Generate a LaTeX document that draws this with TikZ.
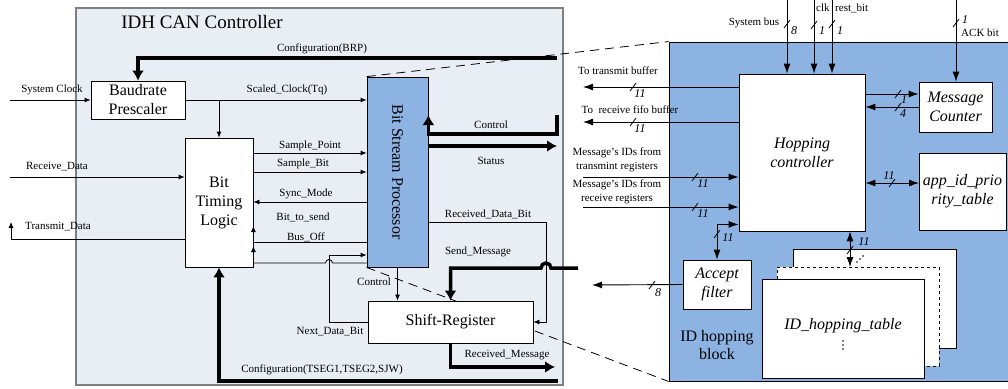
\documentclass[tikz,border=0pt]{standalone}
\usepackage{fontspec}
\setmainfont{Liberation Serif}
\usetikzlibrary{arrows.meta,positioning}
\definecolor{canbg}{RGB}{233,238,245}
\definecolor{bspblue}{RGB}{141,179,226}
\tikzset{
  blk/.style={draw, fill=white, align=center, inner sep=1pt, line width=0.8pt, font=\fontsize{16}{19}\selectfont},
  iblk/.style={blk, font=\fontsize{16}{19}\selectfont\itshape},
  lbl/.style={inner sep=1pt, align=center, font=\fontsize{11}{14}\selectfont},
  wid/.style={inner sep=1pt, font=\fontsize{12}{12}\selectfont\itshape},
  sig/.style={line width=0.8pt, -{Latex[length=6pt,width=5pt]}},
  sigr/.style={line width=0.9pt, -{Latex[length=10pt,width=7pt]}},
  sigrr/.style={line width=0.9pt, {Latex[length=10pt,width=7pt]}-{Latex[length=10pt,width=7pt]}},
  bus/.style={line width=3.5pt, -{Latex[length=10pt,width=12pt]}},
  zoomline/.style={line width=0.8pt, dash pattern=on 9pt off 6pt},
}
\newcommand{\wmark}[1]{\draw[line width=0.8pt] (#1) +(-3,4) -- +(3,-4);}

\begin{document}
\begin{tikzpicture}[x=1pt,y=-1pt]
\useasboundingbox (0,0) rectangle (1008,388);

\node[draw=black!50, line width=1.2pt, fill=canbg, minimum width=487pt, minimum height=377pt, inner sep=0pt] (can) at (319.5,196.5) {};
\node[draw, line width=0.9pt, fill=bspblue, minimum width=343pt, minimum height=339pt, inner sep=0pt] (hopblk) at (840.5,211.5) {};
\node[font=\fontsize{19}{20}\selectfont] (title) at (202,22) {IDH CAN Controller};

\node[blk, minimum width=94pt, minimum height=38pt] (baud) at (138,100) {Baudrate\\Prescaler};
\node[blk, minimum width=68pt, minimum height=129pt] (btl) at (219,202.5) {Bit\\Timing\\Logic};
\node[blk, fill=bspblue, minimum width=61pt, minimum height=190pt] (bsp) at (397.5,172) {\rotatebox{-90}{Bit Stream Processor}};

\draw[zoomline] (bsp.north west) -- (hopblk.north west);
\draw[zoomline] (bsp.south west) -- (hopblk.south west);

\node[blk, minimum width=165pt, minimum height=42pt] (shift) at (450.5,322) {Shift-Register};

\coordinate (brpin) at (557,58);
\coordinate (sysclk) at (10,100);
\coordinate (rxd) at (10,177);
\coordinate (txd) at (11,222);
\coordinate (ctrlin) at (557,115);
\coordinate (statout) at (557,146);
\coordinate (sendin) at (578,268);
\coordinate (rxmsg) at (555,367);
\coordinate (tsegin) at (558,381);

\draw[bus] (brpin) -| (baud.north);
\node[lbl] (brplbl) at (322,49) {Configuration(BRP)};
\draw[sig] (sysclk) -- (baud.west);
\node[lbl] (sysclklbl) at (52,90) {System Clock};
\draw[sig] (baud.east) -- (baud.east -| bsp.west);
\draw[sig] (baud.east -| btl.north) -- (btl.north);
\node[lbl] (tqlbl) at (287,90) {Scaled\_Clock(Tq)};
\draw[sig] (rxd) -- (rxd -| btl.west);
\node[lbl] (rxdlbl) at (57,167) {Receive\_Data};
\draw[sig] (btl.west |- 0,239) -| (txd);
\node[lbl] (txdlbl) at (58,227) {Transmit\_Data};

\draw[sig] (btl.east |- 0,153) -- (bsp.west |- 0,153);
\node[lbl] (splbl) at (310,146) {Sample\_Point};
\draw[sig] (btl.east |- 0,172) -- (bsp.west |- 0,172);
\node[lbl] (sblbl) at (303,164) {Sample\_Bit};
\draw[sig] (bsp.west |- 0,202) -- (btl.east |- 0,202);
\node[lbl] (smlbl) at (306,194) {Sync\_Mode};
\draw[sig] (bsp.west |- 0,242) -| (btl.east |- 0,226);
\node[lbl] (btslbl) at (303,217) {Bit\_to\_send};
\node[lbl] (bolbl) at (306,237) {Bus\_Off};
\draw[sig] (bsp.west |- 0,263) -- (332.5,263) arc[start angle=0, end angle=180, radius=3.5pt]
  -- (btl.east |- 0,263) -- (btl.east |- 0,246);
\draw[sig] (shift.west) -| (329,255) -- (bsp.west |- 0,255);
\node[lbl] (ndblbl) at (330,332) {Next\_Data\_Bit};
\draw[sig] (bsp.south) -- (bsp.south |- shift.north);
\node[lbl] (ctrllbl) at (374,282) {Control};
\draw[sig] (bsp.east |- 0,222) -- (546,222) |- (shift.east);
\node[lbl] (rdblbl) at (488,214) {Received\_Data\_Bit};

\draw[bus] (ctrlin) |- (bsp.east |- 0,134) -- (bsp.east |- 0,115);
\node[lbl] (ctrl2lbl) at (491,125) {Control};
\draw[bus] (bsp.east |- statout) -- (statout);
\node[lbl] (statlbl) at (491,161) {Status};
\draw[bus] (sendin) -- (551,268) arc[start angle=0, end angle=180, radius=5pt] -| (shift.north);
\node[lbl] (smsglbl) at (478,252) {Send\_Message};
\draw[bus] (shift.south) |- (rxmsg);
\node[lbl] (rmsglbl) at (507,355) {Received\_Message};
\draw[bus] (tsegin) -| (btl.south);
\node[lbl] (tseglbl) at (322,370) {Configuration(TSEG1,TSEG2,SJW)};

\node[iblk, minimum width=126pt, minimum height=157pt] (hop) at (802,152.5) {Hopping\\controller};
\node[iblk, minimum width=73pt, minimum height=50pt] (msgc) at (955.5,107) {Message\\Counter};
\node[iblk, minimum width=87pt, minimum height=77pt] (prio) at (962.5,191.5) {app\_id\_prio\\rity\_table};
\node[iblk, minimum width=68pt, minimum height=49pt] (accept) at (717,284.5) {Accept\\filter};
\node[blk, minimum width=163pt, minimum height=99pt] (tabB) at (874.5,298.5) {};
\node[blk, dashed, minimum width=162pt, minimum height=99pt] (tabM) at (858,316.5) {};
\node[blk, minimum width=162pt, minimum height=99pt] (tabF) at (843,328.5) {};
\node[inner sep=0pt, font=\fontsize{16}{19}\selectfont\itshape] (tabname) at (843,326) {ID\_hopping\_table};
\fill (843,341) circle (0.8pt) (843,345) circle (0.8pt) (843,349) circle (0.8pt);
\node[align=center, font=\fontsize{16}{18}\selectfont] (idlbl) at (717,345) {ID hopping\\block};

\coordinate (sbus) at (787,0);
\coordinate (clk) at (814,0);
\coordinate (rst) at (832,0);
\coordinate (ack) at (956,0);
\draw[sigr] (sbus) -- (sbus |- hop.north);
\draw[sigr] (clk) -- (clk |- hop.north);
\draw[sigr] (rst) -- (rst |- hop.north);
\draw[sigr] (ack) -- (ack |- msgc.north);
\wmark{787,24} \wmark{814,25} \wmark{832,24} \wmark{956,23}
\node[lbl] (sbuslbl) at (754,23) {System bus};
\node[wid] (w8a) at (794,31) {8};
\node[wid] (w1a) at (822,31) {1};
\node[wid] (w1b) at (840,31) {1};
\node[lbl, anchor=west] (clklbl) at (815,8) {clk};
\node[lbl, anchor=west] (rstlbl) at (834,8) {rest\_bit};
\node[wid] (w1c) at (965,20) {1};
\node[lbl] (acklbl) at (980,33) {ACK bit};

\coordinate (mcin) at ([yshift=13pt]msgc.west);
\draw[sigr] (mcin -| hop.east) -- (mcin);
\draw[sigr] (msgc.west) -- (msgc.west -| hop.east);
\wmark{898,94} \wmark{898,107}
\node[wid] (w1d) at (904,100) {1};
\node[wid] (w4) at (903,114) {4};

\coordinate (prin) at (919,183);
\draw[sigrr] (prin -| hop.east) -- (prin);
\wmark{892,183}
\node[wid] (w11a) at (889,176) {11};

\coordinate (tabin) at (850,267);
\draw[sigrr] (tabin |- hop.south) -- (tabin);
\wmark{850,250}
\node[wid] (w11b) at (864,242) {11};
\fill (857,262) circle (0.8pt) (860,259) circle (0.8pt) (863,256) circle (0.8pt);

\coordinate (txbuf) at (583,87);
\coordinate (rxbuf) at (583,122);
\coordinate (txid) at (583,177);
\coordinate (rxid) at (583,207);
\coordinate (afout) at (592,285);
\draw[sigr] (txbuf -| hop.west) -- (txbuf);
\draw[sigr] (rxbuf -| hop.west) -- (rxbuf);
\draw[sigr] (txid) -- (txid -| hop.west);
\draw[sigr] (rxid) -- (rxid -| hop.west);
\draw[sigrr] (accept.north) |- ([yshift=7pt]hop.south west);
\draw[sigr] (accept.west) -- (afout);
\wmark{633,87} \wmark{633,122} \wmark{695,177} \wmark{695,207} \wmark{717,234} \wmark{652,285}
\node[lbl] (txbuflbl) at (618,71) {To transmit buffer};
\node[lbl] (rxbuflbl) at (630,110) {To\ \ receive fifo buffer};
\node[lbl] (txidlbl) at (617,160) {Message’s IDs from\\transmint registers};
\node[lbl] (rxidlbl) at (617,192) {Message’s IDs from\\receive registers};
\node[wid] (w11c) at (640,94) {11};
\node[wid] (w11d) at (640,129) {11};
\node[wid] (w11e) at (703,184) {11};
\node[wid] (w11f) at (703,214) {11};
\node[wid] (w11g) at (728,238) {11};
\node[wid] (w8b) at (658,293) {8};
\end{tikzpicture}
\end{document}
